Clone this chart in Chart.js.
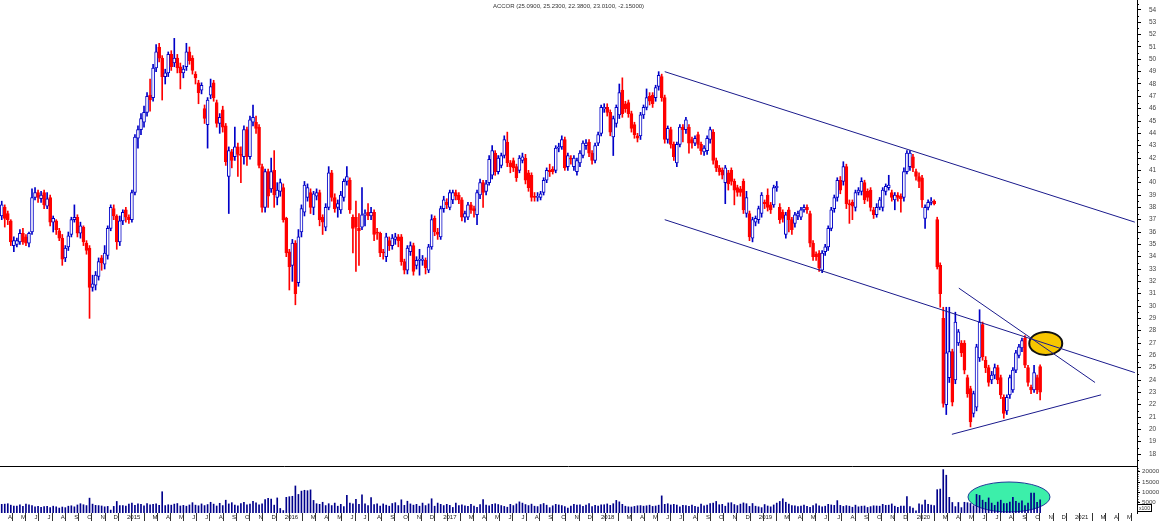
<!DOCTYPE html>
<html>
<head>
<meta charset="utf-8">
<title>ACCOR semanal</title>
<script src="https://cdn.jsdelivr.net/npm/chart.js@4.4.0/dist/chart.umd.min.js"></script>
<style>
    html, body { margin: 0; padding: 0; background: #fff; }
    #quadro { position: relative; width: 1162px; height: 521px; overflow: hidden; }
    #caixaPreco { position: absolute; left: 0; top: 0; }
    #caixaVolume { position: absolute; left: 0; top: 466px; }
</style>
</head>
<body>
<div id="quadro">
    <canvas id="caixaPreco" width="1162" height="466"></canvas>
    <canvas id="caixaVolume" width="1162" height="55"></canvas>
</div>
<script>
// Candles semanais da ACCOR, primeira semana em 22/03/2014
const primeiraSemana = '2014-03-22';

const opens = [
    37.3,38.0,37.5,36.9,34.9,35.0,35.2,35.9,35.6,35.1,
    36.0,38.8,39.2,38.7,39.2,38.1,38.8,36.8,36.9,36.1,
    35.5,33.9,34.8,35.8,37.0,37.2,35.9,36.4,35.1,34.7,
    31.5,31.7,32.4,33.9,33.4,34.1,36.3,37.9,37.3,35.2,
    36.9,37.8,37.2,37.0,39.2,43.6,44.3,44.9,45.7,47.1,
    46.9,49.3,51.0,50.1,48.6,48.9,50.4,49.7,50.1,49.4,
    48.9,49.4,50.6,50.1,48.8,48.1,47.5,46.0,44.7,47.1,
    48.1,46.5,44.8,45.9,44.6,40.5,42.5,42.1,42.9,42.3,
    42.1,44.3,42.1,44.9,44.9,44.5,41.3,38.0,40.9,39.5,
    41.0,38.8,39.3,39.6,37.1,34.4,33.3,35.1,31.9,36.0,
    37.6,38.8,39.2,38.0,38.9,39.2,37.2,36.4,38.0,40.8,
    38.8,38.0,37.8,38.8,40.1,40.2,37.2,37.2,36.3,36.4,
    37.4,37.6,37.3,37.6,36.0,35.9,34.4,34.0,35.3,34.9,
    35.4,35.6,35.6,33.6,32.9,34.4,34.9,33.3,33.7,33.7,
    33.7,32.9,34.8,37.1,36.0,35.6,37.9,38.4,38.0,38.6,
    39.2,39.0,38.6,37.2,37.2,38.2,37.9,37.4,39.0,40.0,
    39.3,40.0,40.6,42.4,40.9,41.4,42.2,43.3,41.6,41.8,
    41.3,41.0,41.8,42.0,40.8,40.6,38.9,38.8,38.8,39.2,
    40.2,41.0,41.1,41.0,42.8,42.9,43.5,41.3,42.0,41.3,
    40.9,41.6,42.2,43.0,43.3,42.4,41.8,43.2,44.0,46.0,
    46.1,45.7,43.7,44.8,45.5,47.5,46.4,46.5,45.6,44.7,
    43.8,43.8,45.5,46.1,47.0,47.1,46.9,47.8,48.6,46.9,
    43.5,44.3,43.1,41.6,43.1,44.5,44.3,44.5,43.5,43.2,
    43.9,43.1,42.5,42.6,43.5,44.1,41.8,41.2,41.0,40.0,
    40.8,41.0,40.1,39.6,39.5,40.1,37.5,37.5,35.5,36.8,
    37.0,37.5,38.4,39.0,38.2,38.2,39.6,38.0,37.6,35.8,
    37.8,37.0,36.7,37.3,37.2,37.8,38.0,37.5,35.1,34.2,
    34.3,32.9,34.4,34.8,36.3,37.9,38.8,40.2,40.1,41.3,
    38.3,38.4,38.0,39.2,39.3,40.0,39.3,39.4,37.8,37.4,
    38.0,38.0,39.3,39.6,39.2,38.6,39.0,38.9,38.8,40.9,
    41.3,42.1,40.9,40.5,40.4,37.1,38.0,38.4,38.5,37.0,
    33.3,29.0,22.0,24.2,26.3,24.0,27.0,27.0,27.0,24.2,
    23.3,21.3,21.8,25.8,28.5,25.6,25.0,24.0,24.4,25.0,
    24.2,22.6,21.5,22.8,23.2,24.8,26.0,26.6,27.4,25.0,
    23.4,23.2,24.2,25.09
];

const highs = [
    38.5,38.2,37.7,37.0,35.6,35.5,36.2,36.3,35.8,36.0,
    39.5,39.6,39.4,39.3,39.4,39.2,39.0,37.3,37.0,36.3,
    35.8,34.9,36.0,37.2,38.2,37.4,36.8,36.5,35.3,34.9,
    32.5,32.8,33.9,34.1,34.9,36.5,38.2,38.2,37.4,37.3,
    37.8,38.0,37.4,39.4,43.9,44.6,45.6,46.2,47.3,48.4,
    49.6,51.2,51.3,50.3,49.2,50.6,50.7,51.7,50.4,49.7,
    49.5,51.3,51.0,50.3,49.0,48.3,48.1,46.3,46.9,48.4,
    48.3,46.7,45.6,46.2,44.8,42.9,42.7,44.5,43.2,42.9,
    44.6,44.5,45.4,46.3,45.4,44.7,41.5,41.1,41.1,42.0,
    42.6,40.0,40.3,39.9,37.2,34.6,35.4,35.3,36.2,38.2,
    40.1,39.9,39.5,39.3,39.5,39.4,37.4,38.3,41.3,41.0,
    39.1,38.6,39.3,40.3,41.3,40.4,37.4,38.5,37.5,39.6,
    37.8,38.3,38.0,37.8,36.3,36.0,34.6,35.9,35.6,35.8,
    35.9,35.8,35.8,33.8,34.9,35.2,35.1,34.0,34.6,34.1,
    33.9,35.0,37.4,37.3,36.3,38.1,38.9,38.7,39.4,39.4,
    39.4,39.2,38.8,37.7,38.4,38.4,38.1,39.4,40.3,40.2,
    40.2,42.2,43.0,42.6,42.2,42.4,43.8,44.1,41.8,42.0,
    41.5,42.2,42.4,42.3,41.0,40.8,39.2,39.2,39.3,40.4,
    41.2,41.5,41.3,43.0,43.2,43.8,43.7,42.4,42.2,42.2,
    42.0,42.6,43.4,43.5,43.5,42.6,43.2,44.1,46.3,46.4,
    46.4,45.9,45.4,46.3,48.0,48.5,46.6,46.7,45.8,44.9,
    44.0,45.7,46.3,47.6,47.3,47.3,47.9,49.0,48.8,47.1,
    44.6,44.5,43.3,43.3,44.7,44.7,45.3,44.7,43.7,43.8,
    44.1,43.3,43.0,43.8,44.5,44.3,42.0,41.4,41.2,41.4,
    41.0,41.2,40.3,39.8,39.7,40.3,39.3,37.7,37.2,37.3,
    38.1,39.2,38.6,39.5,38.4,39.8,40.1,38.3,37.8,37.6,
    38.0,37.2,37.6,37.7,38.0,38.2,38.2,37.7,35.3,34.4,
    34.5,34.5,35.0,36.5,38.0,39.0,40.4,40.5,41.7,41.5,
    38.6,38.6,39.4,39.6,40.4,40.2,39.5,39.6,38.0,38.3,
    38.8,39.6,39.9,40.6,39.4,39.2,39.2,39.1,41.2,42.6,
    42.6,42.3,41.1,40.8,40.6,38.2,38.6,38.8,38.6,37.2,
    33.5,29.9,29.9,29.9,26.5,29.5,28.1,27.2,27.2,24.4,
    23.5,23.1,26.9,29.7,28.7,25.9,25.2,24.7,25.3,25.2,
    24.4,22.8,22.8,24.4,25.0,26.4,26.9,27.4,27.6,25.2,
    23.6,25.2,24.4,25.23
];

const lows = [
    37.0,36.4,36.6,34.9,34.4,34.8,35.0,35.0,34.9,34.8,
    35.8,38.6,38.4,38.4,37.9,37.9,36.5,36.0,35.8,35.3,
    33.3,33.6,34.5,35.6,36.8,35.6,35.5,34.9,34.2,29.0,
    31.2,31.3,32.1,32.9,33.0,33.8,36.1,37.0,34.6,34.9,
    36.6,36.8,36.7,36.8,39.0,42.8,43.9,44.5,45.4,45.8,
    46.6,49.0,49.8,46.7,48.0,48.6,49.1,49.4,48.9,47.6,
    48.5,49.1,49.6,48.8,48.0,46.4,47.2,44.8,42.8,46.8,
    46.6,44.5,44.0,44.1,41.4,37.5,41.2,41.8,40.5,40.0,
    41.5,41.4,41.9,44.6,44.0,41.2,37.6,37.6,38.0,39.2,
    38.0,38.2,38.9,36.8,34.0,31.3,32.0,30.1,31.6,35.6,
    37.3,38.5,37.5,37.4,38.6,36.5,35.8,36.1,37.8,38.5,
    37.6,37.2,37.5,38.5,39.8,37.5,34.3,32.8,33.3,36.2,
    36.5,37.0,37.0,35.3,35.4,34.0,33.8,33.6,34.5,34.6,
    35.0,34.8,33.3,32.6,32.6,34.1,32.5,33.0,32.5,33.3,
    32.6,32.7,34.6,35.7,35.4,35.4,37.6,37.9,37.8,38.3,
    38.6,38.3,36.9,36.8,37.0,37.5,37.2,36.6,38.7,38.0,
    39.0,39.8,40.3,40.6,40.7,41.2,42.0,41.3,40.8,40.9,
    40.1,40.8,41.6,39.9,39.3,38.5,38.5,38.5,38.6,39.0,
    40.0,40.5,40.7,40.8,42.5,42.7,41.0,41.0,41.5,41.0,
    40.6,41.3,42.0,42.7,42.1,41.5,41.6,43.0,43.8,45.7,
    45.4,43.8,42.2,44.5,45.2,45.3,45.7,45.3,44.1,43.6,
    43.3,43.5,45.2,45.9,46.3,46.1,46.6,47.5,46.6,43.2,
    43.2,42.8,41.8,41.3,42.9,43.3,44.0,42.4,42.8,43.0,
    42.8,42.3,42.2,42.3,43.2,41.5,40.9,40.6,40.3,38.3,
    39.4,39.8,38.2,38.9,38.9,37.5,37.2,35.3,35.2,36.5,
    36.7,37.2,37.9,37.7,37.5,38.0,39.3,36.7,36.8,35.5,
    36.0,35.8,36.4,37.0,37.0,37.6,37.5,34.8,33.7,33.7,
    32.8,32.7,34.1,34.5,36.1,37.6,38.5,39.1,39.8,37.9,
    36.7,37.0,37.7,39.0,39.0,38.3,38.5,37.7,37.1,37.2,
    37.8,37.7,39.0,39.4,38.5,37.8,38.5,37.6,38.5,40.7,
    41.0,40.9,40.2,39.6,38.0,36.3,37.8,38.2,38.2,33.0,
    29.9,21.8,21.2,23.8,21.9,23.7,26.8,25.9,24.5,22.6,
    20.2,21.0,21.5,25.5,25.6,24.6,23.5,23.7,24.1,23.7,
    22.5,20.9,21.2,22.5,23.0,24.6,25.8,26.3,25.0,23.5,
    22.9,23.0,22.9,22.38
];

const closes = [
    38.2,37.1,37.0,35.2,35.3,35.3,35.9,35.2,35.1,35.9,
    38.8,39.2,38.8,39.0,38.2,38.7,36.8,37.1,36.2,35.5,
    33.8,34.7,35.7,37.0,37.2,35.9,36.5,35.2,34.5,31.5,
    31.8,32.5,33.6,33.5,34.3,36.3,38.0,37.3,35.2,36.9,
    37.6,37.2,37.0,39.2,43.7,44.3,45.2,45.7,47.0,46.7,
    49.3,50.6,50.1,48.6,48.9,50.4,49.4,50.1,49.3,48.9,
    49.2,50.6,49.9,49.1,48.5,47.3,47.9,45.2,46.7,47.8,
    46.9,44.8,45.3,44.5,41.7,42.6,41.8,42.9,42.3,42.2,
    44.3,42.1,45.1,45.3,44.4,41.4,38.0,40.9,38.9,40.9,
    39.0,39.4,40.0,37.0,34.3,33.2,35.1,31.0,35.6,37.9,
    39.8,39.6,38.0,39.1,39.2,37.0,36.8,38.0,40.8,38.8,
    37.9,38.3,39.0,40.1,40.5,37.8,36.3,36.4,36.1,37.4,
    37.5,37.3,37.6,35.8,35.9,34.3,34.3,35.6,34.9,35.5,
    35.6,35.3,33.6,32.9,34.7,34.9,32.8,33.7,33.8,33.8,
    33.1,34.8,37.0,36.0,35.8,37.9,38.6,38.2,39.2,39.2,
    38.9,38.6,37.2,37.5,38.2,37.8,37.7,39.2,40.0,39.2,
    39.9,41.9,42.6,40.9,42.0,42.2,43.5,41.6,41.3,41.2,
    40.4,42.0,42.1,40.2,39.6,38.8,38.8,38.9,39.1,40.2,
    41.0,40.9,40.9,42.8,42.9,43.5,41.2,42.2,41.9,42.0,
    41.8,42.4,43.2,43.2,42.4,41.8,43.0,43.9,46.1,46.1,
    45.7,44.1,45.2,46.1,47.3,45.6,46.0,45.6,44.4,43.9,
    43.6,45.5,46.1,46.9,46.6,46.4,47.7,48.7,46.9,43.5,
    44.4,43.1,42.1,43.1,44.5,44.3,45.1,43.2,43.2,43.6,
    43.1,42.6,42.8,43.6,44.3,41.8,41.2,40.9,40.6,41.2,
    39.9,40.1,39.4,39.2,39.2,37.8,38.8,35.6,37.0,37.1,
    37.9,39.0,38.3,38.0,37.8,39.6,39.7,37.0,37.1,37.4,
    37.0,36.2,37.4,37.5,37.8,38.0,37.8,35.1,34.0,34.0,
    33.1,34.3,34.8,36.3,37.8,38.8,40.2,39.4,41.3,38.3,
    38.2,38.1,39.2,39.4,40.1,38.6,38.8,38.0,37.4,38.0,
    38.6,39.4,39.7,39.8,38.8,39.0,38.8,38.7,40.9,42.4,
    42.4,41.2,40.5,40.1,38.6,38.0,38.4,38.5,38.3,33.2,
    31.0,22.1,26.2,26.3,22.2,28.7,27.9,26.2,24.8,22.9,
    20.6,22.9,26.7,28.7,25.9,25.0,23.8,24.4,25.0,24.0,
    22.8,21.3,22.6,24.2,24.8,26.2,26.7,27.2,25.2,23.8,
    23.2,24.6,23.2,23.01
];

// volume semanal (x100)
const volumes = [
    4200,4300,4500,3800,3300,3400,4000,3200,4300,3900,
    3600,3000,3200,2800,3100,3200,2600,3300,3000,2400,
    2900,2600,3300,3500,3000,3900,4500,4000,3600,7200,
    4300,3700,3600,3400,3000,3200,1400,3200,5600,3600,
    3600,3300,4300,4800,3700,4400,4200,3500,4600,3900,
    4200,4500,3700,10300,3600,4000,3800,4300,4600,3400,
    3700,3300,3900,5000,3800,3500,4400,3600,4100,5200,
    4300,3400,4700,3600,6200,4400,5000,3800,3500,4600,
    5200,4000,4300,5600,4900,3900,4500,6500,7100,6800,
    3800,7300,2200,1200,7600,7900,8100,13100,9000,10600,
    11000,10800,11200,6100,4500,4200,5200,3600,4500,3600,
    4800,3300,4200,3100,8600,4800,4400,6600,4200,8800,
    4500,3600,7500,4100,4500,3300,4400,3800,3300,4600,
    5000,3600,6400,3700,5700,4400,3800,4200,3300,4800,
    3600,4400,6900,3300,4800,4200,3600,4200,3700,2700,
    4800,3600,3900,3500,3200,4200,3400,2800,4100,6500,
    3800,3500,4200,4500,4100,3600,3200,2800,4200,3600,
    4400,5400,4800,4100,3600,4300,3300,3100,4100,4600,
    3800,2600,3500,4200,3900,3600,3100,2400,3400,4200,
    3800,4000,3200,3800,4600,3100,3700,3300,3900,4000,
    4400,3700,4500,6100,5400,4200,3300,3000,2900,3200,
    3500,3600,3300,3500,3800,3200,3400,3800,8300,4200,
    4500,3900,4200,3800,3000,3700,3600,3200,3800,3200,
    2900,4300,3500,3800,4600,4800,5600,4000,4200,3300,
    4900,5000,4100,3600,4300,4900,4500,3200,4600,3300,
    3000,2600,4100,3400,3000,3900,4800,5600,6900,5200,
    4300,3600,3500,3100,3300,3800,3200,2700,3600,4500,
    3500,3000,3300,4200,3900,3700,6000,3700,3200,3600,
    3300,2800,3800,3000,3300,3400,2700,3100,3500,3400,
    3300,4200,3700,3800,4400,3300,2800,3400,3300,8000,
    3100,2400,1000,4400,3900,6200,4200,3800,3600,11300,
    11600,21000,18300,7600,5100,3100,5100,2600,5200,5000,
    4600,3500,9000,8500,6200,5200,7300,4800,3700,5300,
    6200,4600,4600,5300,7600,5700,4800,5900,3600,4800,
    9600,9700,5200,6400
];

// rotulos dos eixos
const rotulosPreco = [18,19,20,21,22,23,24,25,26,27,28,29,30,31,32,33,34,35,36,
                      37,38,39,40,41,42,43,44,45,46,47,48,49,50,51,52,53,54];
const rotulosVolume = [5000, 10000, 15000, 20000];
const nomesMeses = ['', '', 'M', 'A', 'M', 'J', 'J', 'A', 'S', 'O', 'N', 'D'];

// linhas de tendencia (data, preco)
const canalSuperior = [['2018-06-02', 49.0], ['2021-05-24', 36.8]];
const canalInferior = [['2018-06-02', 37.0], ['2021-05-24', 24.6]];
const trianguloTopo = [['2020-04-12', 31.45], ['2021-02-21', 23.8]];
const trianguloBase = [['2020-03-27', 19.6], ['2021-03-07', 22.8]];

// marcacoes (elipses)
const elipseAmarela = { data: '2020-10-30', valor: 26.97 };
const elipseVerde = { data: '2020-08-06', valor: 7750 };

const titulo = 'ACCOR (25.0900, 25.2300, 22.3800, 23.0100, -2.15000)';

// ===============================
// datas -> dias desde 01/01/2015
// ===============================
const DIA = 86400000;
const BASE = Date.UTC(2015, 0, 1);
function dia(txt) {
    return (Date.parse(txt + 'T00:00:00Z') - BASE) / DIA;
}

const xMin = dia('2014-03-18');
const xMax = dia('2021-05-29');
const inicio = dia(primeiraSemana);
const semanas = opens.map((_, i) => inicio + 7 * i);

const ticksMeses = [];
for (let a = 2014; a <= 2021; a++) {
    for (let m = 0; m < 12; m++) {
        const d = (Date.UTC(a, m, 1) - BASE) / DIA;
        if (d < xMin || d > xMax) continue;
        ticksMeses.push({ value: d, label: m === 0 ? String(a) : nomesMeses[m] });
    }
}

const FONTE = '"Liberation Sans", Arial, sans-serif';
const AZUL = '#0000c8';
const VERMELHO = '#ff0000';
const LINHA = '#1a1a8c';

const alta = closes.map((c, i) => c >= opens[i]);

function pontos(linha) {
    return linha.map(p => ({ x: dia(p[0]), y: p[1] }));
}

function linhaTendencia(linha) {
    return {
        type: 'line',
        data: pontos(linha),
        borderColor: LINHA,
        borderWidth: 1,
        pointRadius: 0,
        fill: false,
        tension: 0,
        order: 0
    };
}

// plugin para elipses, ticks menores, titulo e separador
const pluginExtras = {
    id: 'extras',
    beforeDatasetsDraw(chart, args, opts) {
        const ctx = chart.ctx;
        (opts.elipses || []).forEach(e => {
            const cx = chart.scales.x.getPixelForValue(dia(e.data));
            const cy = chart.scales.y.getPixelForValue(e.valor);
            ctx.save();
            ctx.beginPath();
            ctx.ellipse(cx, cy, e.rx, e.ry, 0, 0, Math.PI * 2);
            ctx.fillStyle = e.cor;
            ctx.fill();
            ctx.lineWidth = e.espessura;
            ctx.strokeStyle = e.borda;
            ctx.stroke();
            ctx.restore();
        });
    },
    afterDraw(chart, args, opts) {
        const ctx = chart.ctx;
        const area = chart.chartArea;
        ctx.save();

        if (opts.menores) {
            const s = chart.scales.y;
            ctx.strokeStyle = '#000';
            ctx.lineWidth = 1;
            opts.menores.valores.forEach(v => {
                const y = Math.round(s.getPixelForValue(v)) + 0.5;
                ctx.beginPath();
                ctx.moveTo(area.right, y);
                ctx.lineTo(area.right + opts.menores.tamanho, y);
                ctx.stroke();
            });
        }

        if (opts.titulo) {
            ctx.font = '6px ' + FONTE;
            ctx.fillStyle = '#333';
            ctx.textAlign = 'center';
            ctx.textBaseline = 'middle';
            ctx.fillText(opts.titulo, (area.left + area.right) / 2, 6);
        }

        if (opts.separador) {
            ctx.strokeStyle = '#000';
            ctx.lineWidth = 1;
            ctx.beginPath();
            ctx.moveTo(0, area.top + 0.5);
            ctx.lineTo(area.right, area.top + 0.5);
            ctx.stroke();

            // caixinha do multiplicador
            const bx = Math.round(area.right) + 0.5;
            const by = Math.round(area.bottom) - 8.5;
            ctx.fillStyle = '#fff';
            ctx.fillRect(bx, by, 14, 7);
            ctx.strokeRect(bx, by, 14, 7);
            ctx.font = '5px ' + FONTE;
            ctx.fillStyle = '#333';
            ctx.textAlign = 'center';
            ctx.textBaseline = 'middle';
            ctx.fillText('x100', bx + 7, by + 3.8);
        }
        ctx.restore();
    }
};

const menoresPreco = [];
for (let v = 17.5; v <= 54.5; v += 1) menoresPreco.push(v);
const menoresVolume = [];
for (let v = 1000; v <= 22000; v += 1000) if (v % 5000 !== 0) menoresVolume.push(v);

// ===============================
// grafico de precos (candles)
// ===============================
new Chart(document.getElementById('caixaPreco'), {
    type: 'bar',
    data: {
        datasets: [
            linhaTendencia(canalSuperior),
            linhaTendencia(canalInferior),
            linhaTendencia(trianguloTopo),
            linhaTendencia(trianguloBase),
            {
                label: 'Corpos',
                data: semanas.map((x, i) => ({ x: x, y: [opens[i], closes[i]] })),
                backgroundColor: alta.map(a => a ? '#ffffff' : VERMELHO),
                borderColor: alta.map(a => a ? AZUL : VERMELHO),
                borderWidth: 1,
                borderSkipped: false,
                barThickness: 3,
                minBarLength: 1,
                grouped: false,
                order: 1
            },
            {
                label: 'Sombras',
                data: semanas.map((x, i) => ({ x: x, y: [lows[i], highs[i]] })),
                backgroundColor: alta.map(a => a ? AZUL : VERMELHO),
                barThickness: 1,
                grouped: false,
                order: 2
            }
        ]
    },
    options: {
        responsive: false,
        animation: false,
        events: [],
        layout: { padding: 0 },
        plugins: {
            legend: { display: false },
            tooltip: { enabled: false },
            extras: {
                titulo: titulo,
                menores: { valores: menoresPreco, tamanho: 2 },
                elipses: [{
                    data: elipseAmarela.data, valor: elipseAmarela.valor,
                    rx: 16.5, ry: 11.5, cor: '#f7c600', borda: '#111', espessura: 2
                }]
            }
        },
        scales: {
            x: { type: 'linear', display: false, min: xMin, max: xMax, offset: false },
            y: {
                type: 'linear',
                position: 'right',
                min: 17.03,
                max: 54.81,
                afterBuildTicks: s => { s.ticks = rotulosPreco.map(v => ({ value: v })); },
                afterFit: s => { s.width = 25; s.paddingTop = 0; s.paddingBottom = 0; },
                ticks: {
                    font: { family: FONTE, size: 6.5 },
                    color: '#444',
                    padding: 8,
                    callback: v => String(v)
                },
                grid: { drawOnChartArea: false, tickLength: 4, tickColor: '#000' },
                border: { display: true, color: '#000', width: 1 }
            }
        }
    },
    plugins: [pluginExtras]
});

// ===============================
// grafico de volume + eixo de meses
// ===============================
new Chart(document.getElementById('caixaVolume'), {
    type: 'bar',
    data: {
        datasets: [{
            label: 'Volume',
            data: semanas.map((x, i) => ({ x: x, y: volumes[i] })),
            backgroundColor: '#00008b',
            barThickness: 1,
            grouped: false
        }]
    },
    options: {
        responsive: false,
        animation: false,
        events: [],
        layout: { padding: 0 },
        plugins: {
            legend: { display: false },
            tooltip: { enabled: false },
            extras: {
                separador: true,
                menores: { valores: menoresVolume, tamanho: 1.5 },
                elipses: [{
                    data: elipseVerde.data, valor: elipseVerde.valor,
                    rx: 41, ry: 15, cor: '#3cefaa', borda: '#1d3b96', espessura: 1
                }]
            }
        },
        scales: {
            x: {
                type: 'linear',
                position: 'bottom',
                min: xMin,
                max: xMax,
                offset: false,
                afterBuildTicks: s => { s.ticks = ticksMeses.map(t => ({ value: t.value })); },
                afterFit: s => { s.height = 8; s.paddingLeft = 0; s.paddingRight = 0; },
                ticks: {
                    autoSkip: false,
                    maxRotation: 0,
                    align: 'start',
                    labelOffset: 2,
                    padding: -7,
                    font: { family: FONTE, size: 6 },
                    color: '#222',
                    callback: (v, i) => ticksMeses[i] ? ticksMeses[i].label : ''
                },
                grid: { drawOnChartArea: false, tickLength: 8, tickColor: '#333' },
                border: { display: false }
            },
            y: {
                type: 'linear',
                position: 'right',
                min: 0,
                max: 22760,
                afterBuildTicks: s => { s.ticks = rotulosVolume.map(v => ({ value: v })); },
                afterFit: s => { s.width = 25; s.paddingTop = 0; s.paddingBottom = 0; },
                ticks: {
                    font: { family: FONTE, size: 6.2 },
                    color: '#444',
                    padding: 2,
                    callback: v => String(v)
                },
                grid: { drawOnChartArea: false, tickLength: 3, tickColor: '#000' },
                border: { display: true, color: '#000', width: 1 }
            }
        }
    },
    plugins: [pluginExtras]
});
</script>
</body>
</html>
